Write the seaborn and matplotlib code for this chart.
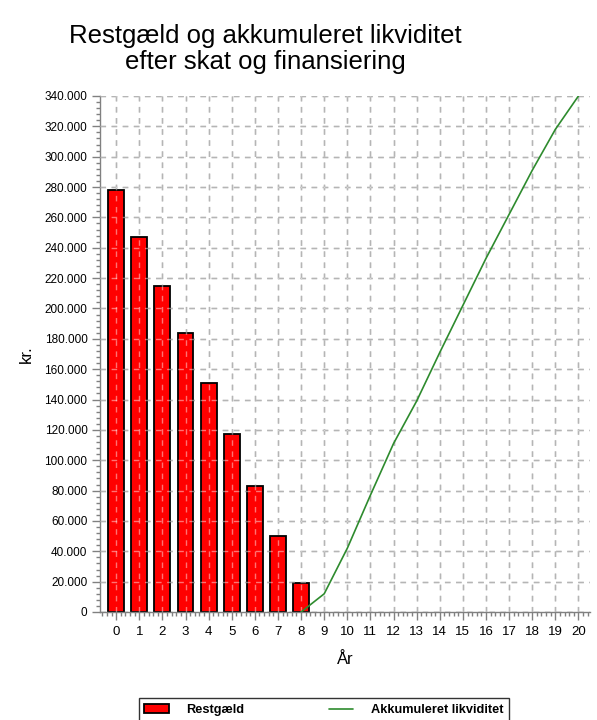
import numpy as np
import pandas as pd
import matplotlib
matplotlib.use("Agg")
import matplotlib.pyplot as plt
import seaborn as sns
from matplotlib.ticker import MultipleLocator, FuncFormatter

# data
bar_years = [0, 1, 2, 3, 4, 5, 6, 7, 8]
restgaeld = [278000, 247000, 215000, 184000, 151000, 117000, 83000, 50000, 19000]

line_years = [8, 9, 10, 11, 12, 13, 14, 15, 16, 17, 18, 19, 20]
likviditet = [0, 12000, 42000, 77000, 111000, 139000, 171000, 202000,
              233000, 262000, 291000, 318000, 340000]

x_ticks = list(range(0, 21))

title = "Restgæld og akkumuleret likviditet\nefter skat og finansiering"

sns.set_style("white")
plt.rcParams['font.family'] = ['Liberation Sans', 'DejaVu Sans']
plt.rcParams['text.color'] = 'black'
plt.rcParams['axes.labelcolor'] = 'black'
plt.rcParams['xtick.color'] = 'black'
plt.rcParams['ytick.color'] = 'black'

fig = plt.figure(figsize=(5.97, 7.2), dpi=100)
ax = fig.add_axes([100 / 597, 108 / 720, 490 / 597, 516 / 720])

bars_df = pd.DataFrame({'year': bar_years, 'value': restgaeld})
line_df = pd.DataFrame({'year': line_years, 'value': likviditet})

sns.barplot(data=bars_df, x='year', y='value', native_scale=True, width=0.69,
            color='#ff0000', saturation=1, edgecolor='black', linewidth=1.3,
            label='Restgæld', ax=ax, zorder=2)
sns.lineplot(data=line_df, x='year', y='value', color='#2e8b2e', linewidth=1.2,
             label='Akkumuleret likviditet', ax=ax, zorder=4)

ax.set_xlim(-0.7, 20.5)
ax.set_ylim(0, 340000)
ax.set_xticks(x_ticks)
ax.xaxis.set_minor_locator(MultipleLocator(0.2))
ax.yaxis.set_major_locator(MultipleLocator(20000))
ax.yaxis.set_minor_locator(MultipleLocator(4000))
ax.yaxis.set_major_formatter(FuncFormatter(lambda v, p: f"{int(v):,}".replace(",", ".")))

ax.tick_params(axis='both', which='both', bottom=True, left=True)
ax.tick_params(axis='both', which='major', direction='out', length=6, width=1,
               color='#808080', labelcolor='black')
ax.tick_params(axis='both', which='minor', direction='out', length=3, width=1,
               color='#808080')
ax.tick_params(axis='y', labelsize=8.5, pad=3)
ax.tick_params(axis='x', labelsize=9.5, pad=4)

# dashed grid behind the bars, with a light overlay so it shows through the red
dash = (0, (4, 4))
ax.set_axisbelow(True)
ax.grid(True, which='major', color='#7a7a7a', linestyle=dash, linewidth=1)
for y in ax.get_yticks():
    if 0 < y <= 340000:
        ax.axhline(y, color='white', alpha=0.45, linestyle=dash, linewidth=1, zorder=3)
for x in x_ticks:
    ax.axvline(x, color='white', alpha=0.45, linestyle=dash, linewidth=1, zorder=3)

for side in ['top', 'right']:
    ax.spines[side].set_visible(False)
for side in ['left', 'bottom']:
    ax.spines[side].set_color('#808080')
    ax.spines[side].set_linewidth(1)

ax.set_xlabel('År', fontsize=12, labelpad=10)
ax.set_ylabel('kr.', fontsize=12, labelpad=8)

fig.text(265 / 597, 1 - 49 / 720, title, ha='center', va='center',
         fontsize=18.5, linespacing=1.15, color='black')

handles, labels = ax.get_legend_handles_labels()
ax.get_legend().remove()
order = [labels.index('Restgæld'), labels.index('Akkumuleret likviditet')]
leg = fig.legend([handles[i] for i in order], [labels[i] for i in order],
                 loc='upper center', ncol=2,
                 bbox_to_anchor=(324 / 597, 1 - 692 / 720),
                 frameon=True, fancybox=False, edgecolor='black',
                 prop={'size': 9.2, 'weight': 'bold'}, columnspacing=6.6,
                 handlelength=1.9, handletextpad=1.4, borderpad=0.45)
leg.get_frame().set_linewidth(1)

fig.savefig('out.png', dpi=100, facecolor='white')
